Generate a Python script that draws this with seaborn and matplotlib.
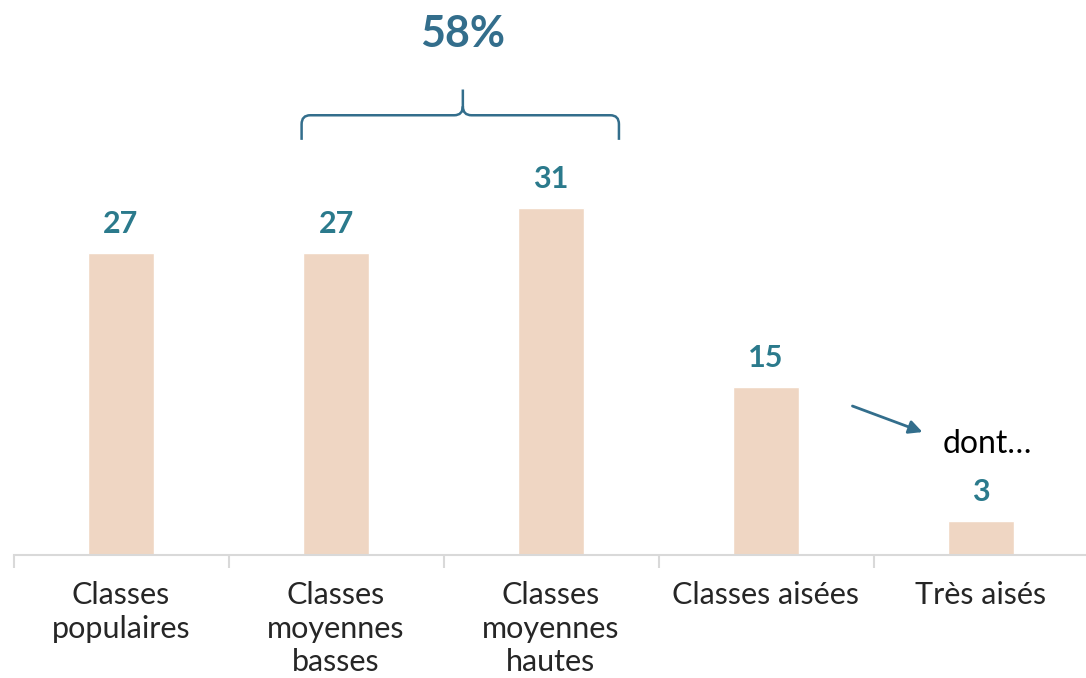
import matplotlib.pyplot as plt
import seaborn as sns
from matplotlib.path import Path
from matplotlib.patches import PathPatch

# data
categories = ['Classes\npopulaires', 'Classes\nmoyennes\nbasses', 'Classes\nmoyennes\nhautes',
              'Classes aisées', 'Très aisés']
values = [27, 27, 31, 15, 3]
group_label = '58%'
note_label = 'dont…'

bar_color = '#EFD6C3'
num_color = '#2B7A8C'
accent = '#336E8C'

sns.set_style('white')
plt.rcParams['font.family'] = ['Lato', 'DejaVu Sans']

fig = plt.figure(figsize=(10.86, 6.78), dpi=100)
ax = fig.add_axes([13.5 / 1086, 123 / 678, 1075 / 1086, 555 / 678])

sns.barplot(x=categories, y=values, color=bar_color, width=0.31, ax=ax, saturation=1)
ax.set_xlim(-0.5, 4.5)
ax.set_ylim(0, 49.6)

# value labels
ax.bar_label(ax.containers[0], padding=11, color=num_color, fontsize=22, fontweight='bold')

# axes styling
for s in ['top', 'right', 'left']:
    ax.spines[s].set_visible(False)
ax.spines['bottom'].set_color('#D9D9D9')
ax.spines['bottom'].set_linewidth(1.5)
ax.set_yticks([])
ax.tick_params(axis='x', which='major', length=0, labelsize=22, pad=19)
ax.set_xticks([i - 0.5 for i in range(len(categories) + 1)], minor=True)
ax.tick_params(axis='x', which='minor', bottom=True, length=9, width=1.5,
               color='#D9D9D9', direction='out')
for lab in ax.get_xticklabels():
    lab.set_linespacing(1.24)
ax.set_xlabel('')

# brace over the two middle-class bars
x0, x1, xc = 0.84, 2.316, 1.59
y0, y1, y2 = 37.1, 39.3, 41.6
rx, ry = 0.04, 0.8
verts = [(x0, y0), (x0, y1 - ry), (x0, y1), (x0 + rx, y1),
         (xc - rx, y1), (xc, y1), (xc, y1 + ry), (xc, y2),
         (xc, y1 + ry), (xc, y1), (xc + rx, y1),
         (x1 - rx, y1), (x1, y1), (x1, y1 - ry), (x1, y0)]
codes = [Path.MOVETO, Path.LINETO, Path.CURVE3, Path.CURVE3,
         Path.LINETO, Path.CURVE3, Path.CURVE3, Path.LINETO,
         Path.MOVETO, Path.CURVE3, Path.CURVE3,
         Path.LINETO, Path.CURVE3, Path.CURVE3, Path.LINETO]
ax.add_patch(PathPatch(Path(verts, codes), fill=False, edgecolor=accent, lw=1.8,
                       clip_on=False, capstyle='butt'))
ax.text(xc, 46.6, group_label, ha='center', va='center', color=accent,
        fontsize=31, fontweight='bold')

# arrow to the "dont…" note
ax.annotate('', xy=(3.74, 10.9), xytext=(3.39, 13.4),
            arrowprops=dict(arrowstyle='-|>', color=accent, lw=2, mutation_scale=20))
ax.text(4.03, 9.9, note_label, ha='center', va='center', color='black', fontsize=23)

fig.savefig('out.png', dpi=100)
